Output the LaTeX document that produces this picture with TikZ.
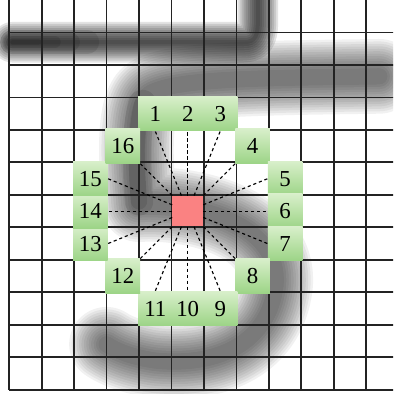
\documentclass[tikz,border=0pt]{standalone}
\usepackage{fontspec}
\setmainfont{Liberation Serif}
\usetikzlibrary{calc}

\definecolor{ringtop}{RGB}{216,239,202}
\definecolor{ringbot}{RGB}{156,212,134}
\definecolor{probe}{RGB}{250,130,130}
\definecolor{gridc}{RGB}{35,35,35}

\begin{document}
\begin{tikzpicture}[
    x=0.8cm, y=0.8cm,
    font=\fontsize{16}{18}\selectfont,
    % Node styles
    ring/.style={inner sep=0pt, minimum size=0.8cm+1.4pt, top color=ringtop, bottom color=ringbot},
    centre/.style={inner sep=0pt, minimum size=0.8cm-1.3pt, fill=probe},
    link/.style={black, line width=0.8pt, dash pattern=on 2.2pt off 2pt},
    gridline/.style={gridc, line width=1.3pt},
]

    \useasboundingbox (-0.28,0) rectangle (11.82,-12.13);
    \clip (-0.28,0) rectangle (11.82,-12.13);

    % Blurred image underneath
    \foreach \w in {0.1,0.2,...,1.0}
        \draw[line width=\w cm, black, opacity=0.11, line cap=round, line join=round]
            (0.1,-1.3) -- (7.2,-1.3) .. controls (7.6,-1.3) and (7.66,-1.1) .. (7.66,-0.6) -- (7.66,0.3);
    \foreach \w/\e in {0.15/0.9,0.3/1.4,0.45/1.9,0.6/2.4}
        \draw[line width=\w cm, black, opacity=0.1, line cap=round]
            (0.1,-1.3) -- (\e,-1.3);
    \foreach \w in {0.4,0.52,...,1.9}
        \draw[line width=\w cm, black, opacity=0.055, line cap=round, line join=round]
            (11.4,-2.35) .. controls (8,-2.4) and (5,-2.4) .. (4.3,-2.9)
            .. controls (3.8,-3.3) and (3.9,-5) .. (4.0,-6.3)
            .. controls (5.5,-6.2) and (8.4,-6.8) .. (8.2,-8.8)
            .. controls (8.0,-10.5) and (6.5,-11.3) .. (4.5,-11.1)
            .. controls (3.8,-11.0) and (3.3,-10.8) .. (3.0,-10.6);
    \foreach \w in {0.4,0.7}
        \draw[line width=\w cm, black, opacity=0.1, line cap=round]
            (4.1,-3.2) .. controls (3.9,-4) and (3.9,-5) .. (4.0,-6.2);

    % Pixel grid
    \foreach \c in {0,...,11}
        \draw[gridline] (\c,0) -- (\c,-12);
    \foreach \r in {1,...,12}
        \draw[gridline] (0,-\r) -- (12,-\r);

    % Pixel under test
    \node[centre] (ctr) at (5.5,-6.5) {};

    % Circle of 16 pixels
    \foreach \n/\c/\r in {1/4/3, 2/5/3, 3/6/3, 4/7/4, 5/8/5, 6/8/6, 7/8/7, 8/7/8,
                          9/6/9, 10/5/9, 11/4/9, 12/3/8, 13/2/7, 14/2/6, 15/2/5, 16/3/4}
        \node[ring] (p\n) at (\c+0.5,-\r-0.5) {\n};

    % Connections
    \foreach \n/\a in {1/south, 2/south, 3/south, 4/south west, 5/west, 6/west, 7/west, 8/north west,
                       9/north, 10/north, 11/north, 12/north east, 13/east, 14/east, 15/east, 16/south east}
        \draw[link] (ctr) -- (p\n.\a);

\end{tikzpicture}
\end{document}
